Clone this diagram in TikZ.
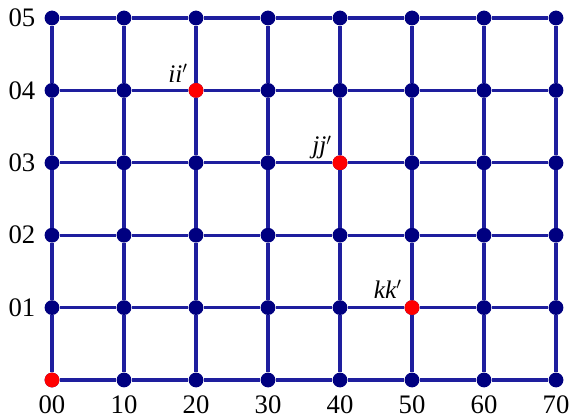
\documentclass[tikz,border=0pt]{standalone}
\usepackage{fontspec}
\setmainfont{Liberation Serif}
\usetikzlibrary{positioning}
\definecolor{gridblue}{HTML}{1E1E9E}
\definecolor{dotblue}{HTML}{000080}
\definecolor{hitred}{HTML}{FF0000}
\tikzset{
  dot/.style={circle, fill=dotblue, inner sep=0pt, minimum size=3.7mm},
  hit/.style={dot, fill=hitred},
  link/.style={gridblue, line width=2.2pt},
  axis/.style={font=\fontsize{19}{19}\selectfont, inner sep=0pt},
  tag/.style={font=\fontsize{18}{18}\selectfont\itshape, inner sep=0pt, anchor=base east},
}

\begin{document}
\begin{tikzpicture}[x=1.8cm,y=1.81cm]
        \useasboundingbox (-1.3cm,-0.975cm) rectangle (13.075cm,9.5cm);
        % grid points
        \foreach \i in {0,...,7}
          \foreach \j in {0,...,5}
            \node[dot] (n\i\j) at (\i,\j) {};
        \foreach \i/\j in {0/0,2/4,4/3,5/1}
          \node[hit] (n\i\j) at (\i,\j) {};
        % links
        \foreach \i in {0,...,7}
          \foreach \j in {0,...,5} {
            \pgfmathtruncatemacro\ni{\i+1}
            \pgfmathtruncatemacro\nj{\j+1}
            \ifnum\i<7 \draw[link] (n\i\j) -- (n\ni\j); \fi
            \ifnum\j<5 \draw[link] (n\i\j) -- (n\i\nj); \fi
          }
        % axis labels
        \foreach \i in {0,...,7}
          \node[axis] (x\i) at ([yshift=-0.62cm]n\i0.center) {\i0};
        \foreach \j in {1,...,5}
          \node[axis] (y\j) at ([xshift=-0.75cm]n0\j.center) {0\j};
        % marked points
        \node[tag] (tii) at ([xshift=-0.2cm,yshift=0.2cm]n24.center) {ii$'$};
        \node[tag] (tjj) at ([xshift=-0.2cm,yshift=0.22cm]n43.center) {jj$'$};
        \node[tag] (tkk) at ([xshift=-0.25cm,yshift=0.24cm]n51.center) {kk$'$};
      \end{tikzpicture}
\end{document}
